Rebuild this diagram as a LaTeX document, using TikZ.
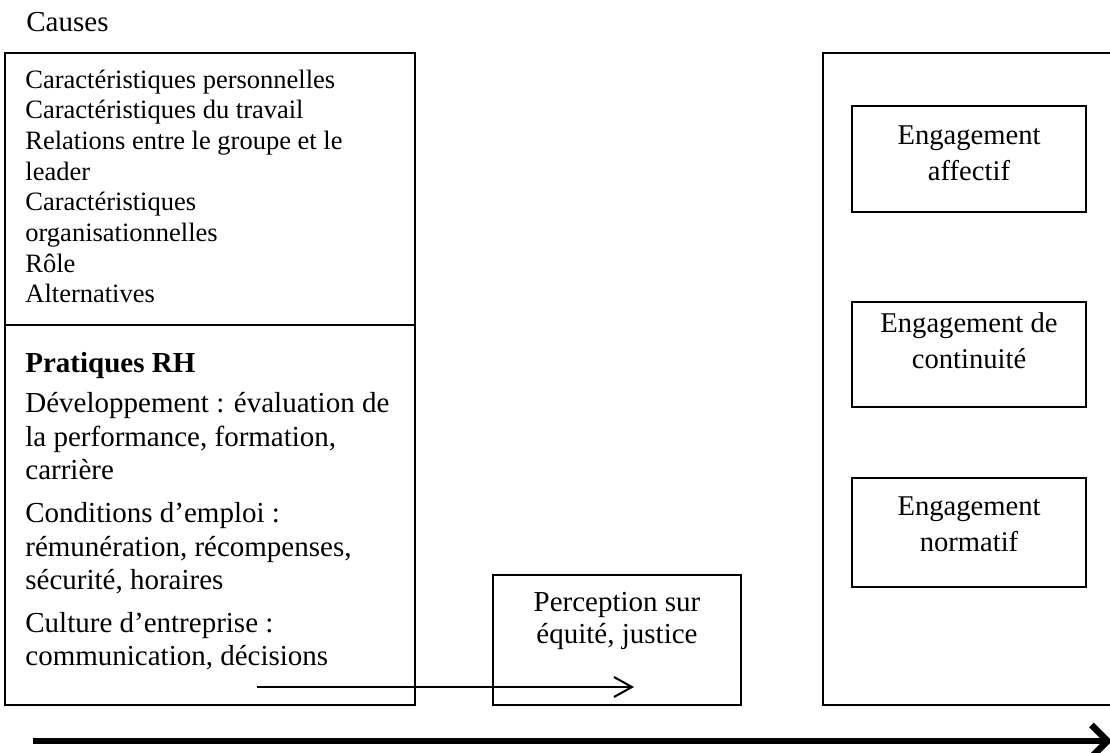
\documentclass[tikz,border=0pt]{standalone}
\usepackage{fontspec}
\setmainfont{Liberation Serif}
\usetikzlibrary{arrows.meta}
\newcommand{\fbig}{\fontsize{14.5pt}{16.75pt}\selectfont}
\newcommand{\fsmall}{\fontsize{13.25pt}{15.35pt}\selectfont}
\newcommand{\feng}{\fontsize{14.3pt}{18pt}\selectfont}
\newcommand{\fperc}{\fontsize{14.5pt}{16pt}\selectfont}
\begin{document}
\begin{tikzpicture}[x=0.5pt,y=-0.5pt,
  box/.style={draw, line width=1pt, rectangle, inner sep=0pt},
  txt/.style={inner sep=0pt, align=left, anchor=base west},
  ctxt/.style={inner sep=0pt, align=center, anchor=base},
  conn/.style={line width=1pt, -{Straight Barb[length=9pt,width=10pt]}},
  timeline/.style={line width=3.25pt, -{Straight Barb[length=8pt,width=16pt]}}]
\useasboundingbox (0,0) rectangle (1110,753);
\clip (0,0) rectangle (1110,753);
\fill[white] (0,0) rectangle (1110,753);

% title
\node[txt, font=\fbig] (causes) at (26,32) {Causes};

% left column
\node[box, minimum width=205pt, minimum height=136pt] (topB) at (210,189) {};
\node[box, minimum width=205pt, minimum height=190pt] (botB) at (210,515) {};

% multi-line nodes: base anchor = baseline of last line
\node[txt, font=\fsmall] (causesList) at (25,303) {Caractéristiques personnelles\\
Caractéristiques du travail\\
Relations entre le groupe et le\\
leader\\
Caractéristiques\\
organisationnelles\\
Rôle\\
Alternatives};

\node[txt, font=\fbig\bfseries] (rh) at (25,373) {Pratiques RH};
\node[txt, font=\fbig] (dev) at (25,480) {Développement : évaluation de\\
la performance, formation,\\
carrière};
\node[txt, font=\fbig] (cond) at (25,590) {Conditions d’emploi :\\
rémunération, récompenses,\\
sécurité, horaires};
\node[txt, font=\fbig] (cult) at (25,666) {Culture d’entreprise :\\
communication, décisions};

% perception box
\node[box, minimum width=124pt, minimum height=65pt] (percB) at (617,640) {};
\node[ctxt, font=\fperc] (percT) at (617,644) {Perception sur\\équité, justice};

% right column
\node[box, minimum width=153.5pt, minimum height=326pt] (engB) at (976.5,379) {};
\node[box, minimum width=117pt, minimum height=53pt] (affB) at (969,159) {};
\node[box, minimum width=117pt, minimum height=52.5pt] (conB) at (969,354.5) {};
\node[box, minimum width=117pt, minimum height=54.5pt] (norB) at (969,532.5) {};
\node[ctxt, font=\feng] (affT) at (969,181) {Engagement\\affectif};
\node[ctxt, font=\feng] (conT) at (969,369) {Engagement de\\continuité};
\node[ctxt, font=\feng] (norT) at (969,552) {Engagement\\normatif};

% arrows
\coordinate (aS) at (257,687);
\coordinate (aE) at (634,687);
\draw[conn] (aS) -- (aE);
\coordinate (bS) at (33,741);
\coordinate (bE) at (1112,741);
\draw[timeline] (bS) -- (bE);
\end{tikzpicture}
\end{document}
